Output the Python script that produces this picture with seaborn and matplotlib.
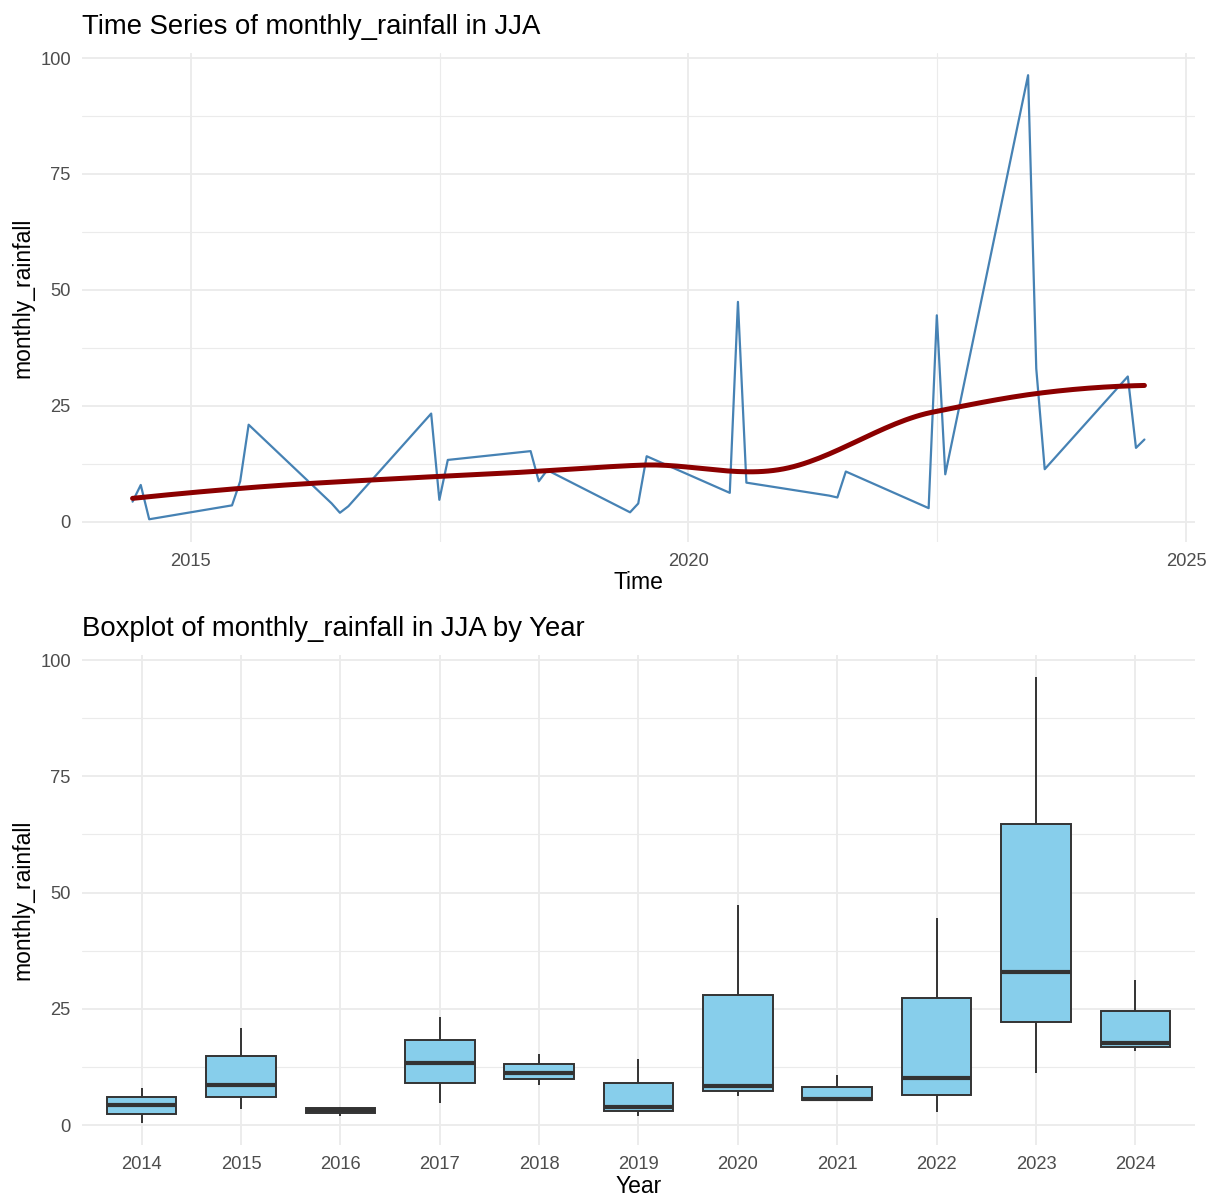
import numpy as np
import pandas as pd
import matplotlib
matplotlib.use("Agg")
import matplotlib.pyplot as plt
import matplotlib.dates as mdates
import seaborn as sns

# --- data: JJA monthly rainfall ---
years = [2014, 2015, 2016, 2017, 2018, 2019, 2020, 2021, 2022, 2023, 2024]
months = [6, 7, 8]
jun = [4.3, 3.5, 3.9, 23.3, 15.2, 2.0, 6.2, 5.6, 2.9, 96.3, 31.3]
jul = [7.9, 8.7, 1.9, 4.7, 8.7, 3.9, 47.4, 5.2, 44.5, 33.0, 15.9]
aug = [0.5, 20.9, 3.3, 13.3, 11.1, 14.1, 8.4, 10.8, 10.2, 11.3, 17.7]

rows = []
for i, yr in enumerate(years):
    for m, v in zip(months, [jun[i], jul[i], aug[i]]):
        rows.append({"date": pd.Timestamp(yr, m, 1), "Year": str(yr), "monthly_rainfall": v})
df = pd.DataFrame(rows)


# --- loess smoother (degree 2, span 0.75), evaluated on kd-tree vertices
#     and joined by cubic Hermite pieces, roughly how R's loess does it ---
def local_fit(x, y, x0, span=0.75):
    n = len(x)
    q = int(np.floor(span * n))
    d = np.abs(x - x0)
    h = np.sort(d)[q - 1]
    w = np.clip(1 - (d / h) ** 3, 0, None) ** 3
    X = np.column_stack([np.ones(n), x - x0, (x - x0) ** 2])
    W = np.sqrt(w)
    beta = np.linalg.lstsq(X * W[:, None], y * W, rcond=None)[0]
    return beta[0], beta[1]


def loess(x, y, xs, span=0.75, cell=0.2):
    xsrt = np.sort(x)
    n = len(x)
    fc = int(np.floor(n * span * cell))
    mu = 0.005 * (xsrt[-1] - xsrt[0])
    verts = {xsrt[0] - mu, xsrt[-1] + mu}

    def split(pts):
        if len(pts) <= fc:
            return
        m = (len(pts) - 1) // 2
        v = (pts[m] + pts[m + 1]) / 2
        verts.add(v)
        split(pts[pts <= v])
        split(pts[pts > v])

    split(xsrt)
    vx = np.array(sorted(verts))
    vals = np.array([local_fit(x, y, v, span) for v in vx])
    out = []
    for x0 in xs:
        j = min(max(np.searchsorted(vx, x0) - 1, 0), len(vx) - 2)
        x1, x2 = vx[j], vx[j + 1]
        hh = x2 - x1
        t = (x0 - x1) / hh
        h00 = 2 * t**3 - 3 * t**2 + 1
        h10 = t**3 - 2 * t**2 + t
        h01 = -2 * t**3 + 3 * t**2
        h11 = t**3 - t**2
        out.append(h00 * vals[j, 0] + h10 * hh * vals[j, 1] + h01 * vals[j + 1, 0] + h11 * hh * vals[j + 1, 1])
    return np.array(out)


xnum = mdates.date2num(df["date"])
xs = np.linspace(xnum.min(), xnum.max(), 200)
smooth = pd.DataFrame({"date": mdates.num2date(xs),
                       "fit": loess(xnum, df["monthly_rainfall"].values, xs)})

# --- style ---
sns.set_style("white")
plt.rcParams["font.family"] = ["Liberation Sans", "DejaVu Sans"]
plt.rcParams["text.color"] = "black"
plt.rcParams["axes.labelcolor"] = "black"
grid_col = "#EBEBEB"
tick_col = "#4D4D4D"

fig = plt.figure(figsize=(12.11, 11.98), dpi=100)
ax1 = fig.add_axes([0.0677, 0.5476, 0.9191, 0.4082])
ax2 = fig.add_axes([0.0677, 0.0442, 0.9191, 0.4091])

# top: time series
sns.lineplot(data=df, x="date", y="monthly_rainfall", ax=ax1, color="steelblue", linewidth=1.6)
sns.lineplot(data=smooth, x="date", y="fit", ax=ax1, color="darkred", linewidth=3.6)

span = xnum.max() - xnum.min()
ax1.set_xlim(xnum.min() - 0.05 * span, xnum.max() + 0.05 * span)
ax1.set_ylim(-4.4, 101.1)
ax1.xaxis.set_major_locator(mdates.YearLocator(5))
ax1.xaxis.set_major_formatter(mdates.DateFormatter("%Y"))
maj = [mdates.date2num(pd.Timestamp(y, 1, 1)) for y in [2010, 2015, 2020, 2025, 2030]]
ax1.xaxis.set_minor_locator(matplotlib.ticker.FixedLocator([(a + b) / 2 for a, b in zip(maj[:-1], maj[1:])]))
ax1.set_title("Time Series of monthly_rainfall in JJA", loc="left", fontsize=19.8, pad=14, color="black")
ax1.set_xlabel("Time")

# bottom: boxplot by year
sns.boxplot(data=df, x="Year", y="monthly_rainfall", ax=ax2, color="skyblue", width=0.7,
            linecolor="#333333", linewidth=1.4, showcaps=False, saturation=1,
            medianprops={"linewidth": 3.0, "color": "#333333"})
ax2.set_xlim(-0.6, 10.6)
ax2.set_ylim(-4.3, 101.1)
ax2.set_title("Boxplot of monthly_rainfall in JJA by Year", loc="left", fontsize=19.8, pad=14, color="black")
ax2.set_xlabel("Year")

for ax in (ax1, ax2):
    ax.set_yticks([0, 25, 50, 75, 100])
    ax.yaxis.set_minor_locator(matplotlib.ticker.FixedLocator([12.5, 37.5, 62.5, 87.5]))
    ax.grid(True, which="major", color=grid_col, linewidth=1.3)
    ax.grid(True, which="minor", color=grid_col, linewidth=0.8)
    ax.set_axisbelow(True)
    for s in ax.spines.values():
        s.set_visible(False)
    ax.tick_params(which="both", length=0, labelsize=13.2, labelcolor=tick_col, pad=8)
    ax.set_ylabel("monthly_rainfall", fontsize=16.5, labelpad=4)
    ax.xaxis.label.set_size(16.5)
    ax.xaxis.labelpad = 1

fig.savefig("out.png", dpi=100, facecolor="white")
